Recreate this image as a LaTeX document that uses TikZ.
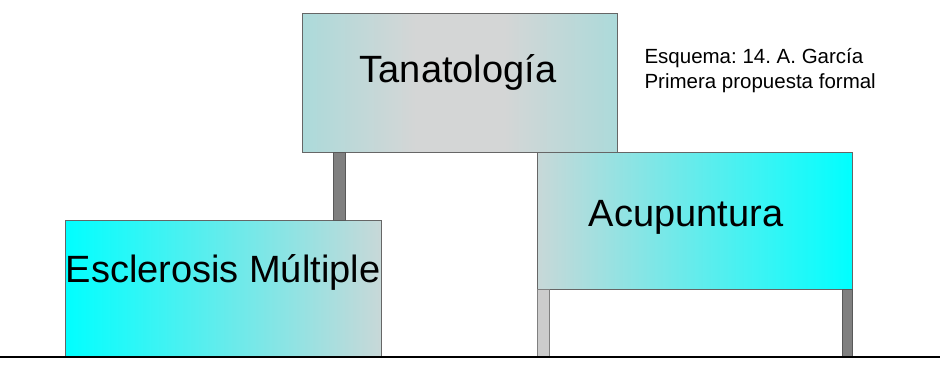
\documentclass[tikz,border=0pt]{standalone}
\usepackage{fontspec}
\setmainfont{Liberation Sans}
\frenchspacing
\definecolor{cianGris}{RGB}{172,218,218}
\definecolor{grisMedio}{RGB}{212,214,214}
\definecolor{grisCian}{RGB}{200,216,216}
\definecolor{cian}{RGB}{0,255,255}
\pgfdeclarehorizontalshading{sombraTan}{100bp}{color(0bp)=(cianGris); color(25bp)=(cianGris); color(43bp)=(grisMedio); color(57bp)=(grisMedio); color(75bp)=(cianGris); color(100bp)=(cianGris)}
\begin{document}
\begin{tikzpicture}[x=1pt,y=-1pt,
	caja/.style={draw=gray!80!black, line width=0.6pt, inner sep=0pt, anchor=north west},
	titulo/.style={font=\fontsize{38}{44}\selectfont, anchor=base},
	poste/.style={fill=gray, draw=gray!70!black, line width=0.5pt},
	postecl/.style={fill=gray!40, draw=gray, line width=0.5pt}]
	\useasboundingbox (0,0) rectangle (940,376);
	%Suelo
	\coordinate (sueloI) at (0,357);
	\coordinate (sueloD) at (940,357);
	%Cajas
	\node[caja, minimum width=315pt, minimum height=139pt, shading=sombraTan] (tan) at (302,13) {};
	\node[caja, minimum width=316pt, minimum height=137pt, left color=cian, right color=grisCian] (esc) at (65,220) {};
	\node[caja, minimum width=315pt, minimum height=137pt, left color=grisCian, right color=cian] (acu) at (537,152) {};
	%Postes
	\draw[poste] (333,152) rectangle (345,220);
	\draw[postecl] (537,289) rectangle (549,357);
	\draw[poste] (842,289) rectangle (852,357);
	\draw[line width=1.6pt] (sueloI) -- (sueloD);
	%Textos
	\node[titulo] (tTan) at (458,82) {Tanatología};
	\node[titulo] (tEsc) at (223,282) {Esclerosis Múltiple};
	\node[titulo] (tAcu) at (686,226) {Acupuntura};
	\node[font=\fontsize{20.5}{25}\selectfont, anchor=base west, align=left] (nota) at (641,88) {Esquema: 14. A. García\\Primera propuesta formal};
\end{tikzpicture}
\end{document}
